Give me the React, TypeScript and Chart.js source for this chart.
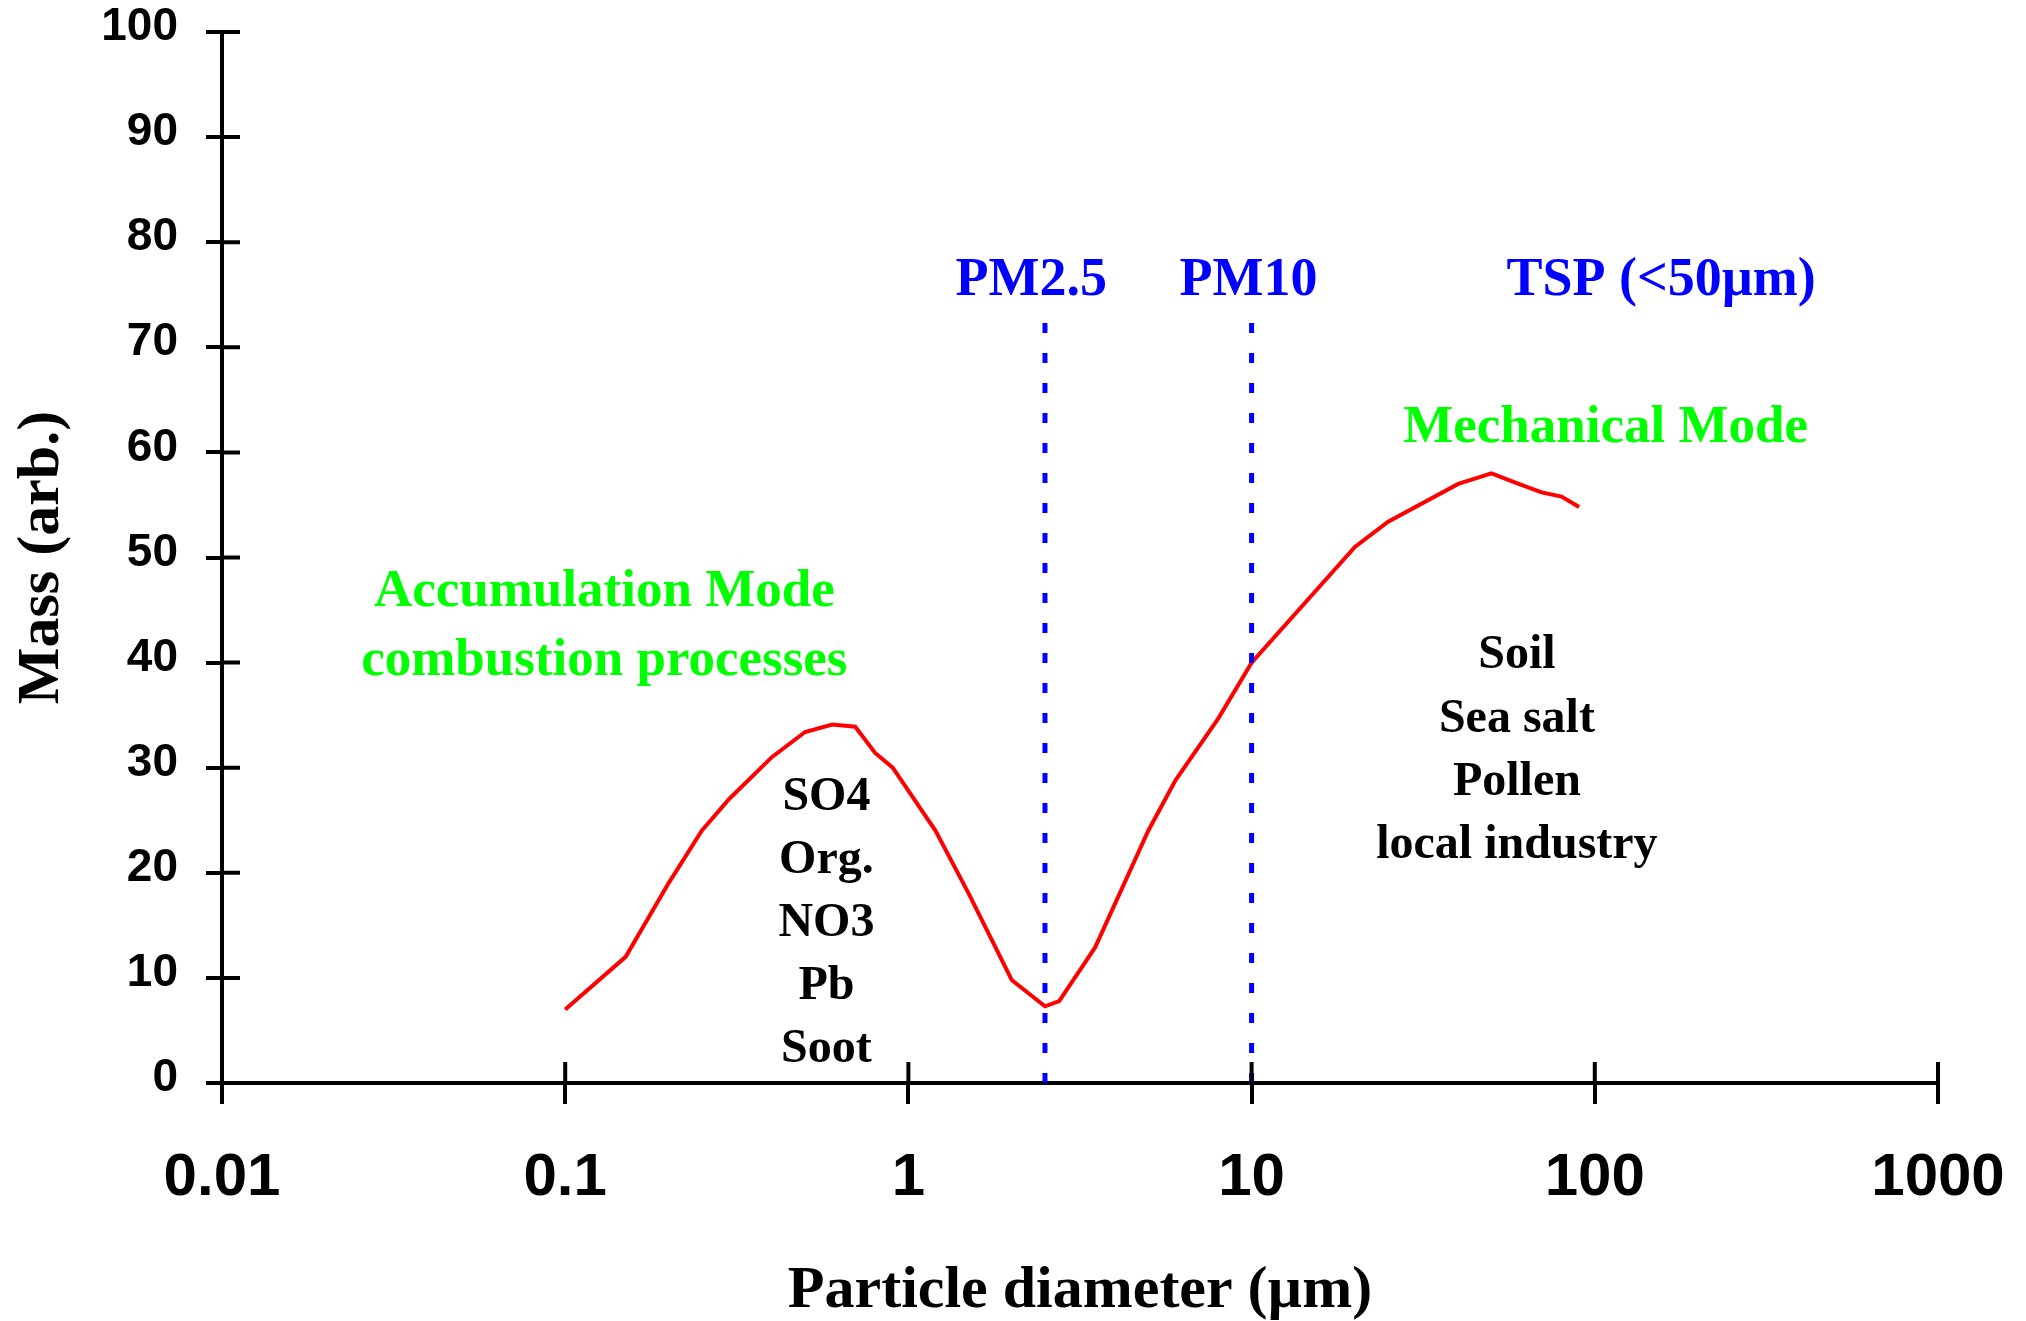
import React, { useEffect, useRef } from 'react';
import { Chart, registerables } from 'chart.js';

Chart.register(...registerables);

// ---- data ----
const diameters = [0.1, 0.15, 0.2, 0.25, 0.3, 0.4, 0.5, 0.6, 0.7, 0.8, 0.9, 1.2, 1.5, 2, 2.5, 2.75, 3.5, 5, 6, 8, 10, 20, 25, 40, 50, 60, 70, 80, 90];
const massValues = [7, 12, 19, 24, 27, 31, 33.4, 34.1, 33.9, 31.4, 30, 24, 18, 9.8, 7.3, 7.8, 12.9, 24, 28.8, 34.7, 40, 51, 53.4, 57, 58, 57, 56.2, 55.8, 54.8];
const cutoffSizes = [2.5, 10];
const cutoffTop = 73.1;
const xTickValues = [0.01, 0.1, 1, 10, 100, 1000];
const xTickLabels = ['0.01', '0.1', '1', '10', '100', '1000'];
const yTickValues = [0, 10, 20, 30, 40, 50, 60, 70, 80, 90, 100];

// text annotations, anchored in data coordinates (x = diameter, ys = baselines)
const BLUE = '#0000ff';
const GREEN = '#00ff00';
const BLACK = '#000000';
const annotations = [
  { lines: ['PM2.5'], x: 2.28, ys: [75], color: BLUE, size: 54 },
  { lines: ['PM10'], x: 9.8, ys: [75], color: BLUE, size: 54 },
  { lines: ['TSP (<50\u00b5m)'], x: 156, ys: [75], color: BLUE, size: 54 },
  { lines: ['Mechanical Mode'], x: 107.5, ys: [61], color: GREEN, size: 53 },
  { lines: ['Accumulation Mode', 'combustion processes'], x: 0.13, ys: [45.4, 38.8], color: GREEN, size: 53 },
  { lines: ['SO4', 'Org.', 'NO3', 'Pb', 'Soot'], x: 0.577, ys: [26, 20, 14, 8, 2], color: BLACK, size: 48 },
  { lines: ['Soil', 'Sea salt', 'Pollen', 'local industry'], x: 59.3, ys: [39.5, 33.4, 27.4, 21.4], color: BLACK, size: 48 },
];

const SANS = '"Liberation Sans", Arial, Helvetica, sans-serif';
const SERIF = '"Liberation Serif", "Times New Roman", Times, serif';

const extrasPlugin = {
  id: 'extras',
  afterDraw(chart: any) {
    const { ctx, chartArea, scales } = chart;
    const xs = scales.x;
    const ys = scales.y;
    ctx.save();
    // inner halves of the crossing tick marks
    ctx.strokeStyle = '#000';
    ctx.lineWidth = 4;
    ctx.beginPath();
    xTickValues.forEach((v) => {
      const px = xs.getPixelForValue(v);
      ctx.moveTo(px, chartArea.bottom);
      ctx.lineTo(px, chartArea.bottom - 21);
    });
    yTickValues.forEach((v) => {
      const py = ys.getPixelForValue(v);
      ctx.moveTo(chartArea.left, py);
      ctx.lineTo(chartArea.left + 18, py);
    });
    ctx.stroke();

    // text annotations
    ctx.textAlign = 'center';
    ctx.textBaseline = 'alphabetic';
    annotations.forEach((a) => {
      ctx.font = `bold ${a.size}px ${SERIF}`;
      ctx.fillStyle = a.color;
      const px = xs.getPixelForValue(a.x);
      a.lines.forEach((line, i) => {
        ctx.fillText(line, px, ys.getPixelForValue(a.ys[i]));
      });
    });
    ctx.restore();
  },
};

export default function App() {
  const canvasRef = useRef<HTMLCanvasElement | null>(null);

  useEffect(() => {
    const canvas = canvasRef.current;
    if (!canvas) return;
    const curve = diameters.map((d, i) => ({ x: d, y: massValues[i] }));
    const cutoffDatasets = cutoffSizes.map((s) => ({
      label: `cutoff ${s}`,
      data: [
        { x: s, y: 0 },
        { x: s, y: cutoffTop },
      ],
      showLine: true,
      borderColor: BLUE,
      borderWidth: 5,
      borderDash: [10, 20],
      pointRadius: 0,
      fill: false,
    }));

    const chart = new Chart(canvas, {
      type: 'scatter',
      data: {
        datasets: [
          ...cutoffDatasets,
          {
            label: 'Mass',
            data: curve,
            showLine: true,
            borderColor: '#ff0000',
            borderWidth: 4,
            pointRadius: 0,
            tension: 0,
            fill: false,
          },
        ],
      },
      options: {
        animation: false,
        responsive: false,
        events: [],
        layout: { padding: { top: 32, right: 88, left: 0, bottom: 0 } },
        plugins: {
          legend: { display: false },
          tooltip: { enabled: false },
          title: { display: false },
        },
        scales: {
          x: {
            type: 'logarithmic',
            position: 'bottom',
            min: 0.01,
            max: 1000,
            afterBuildTicks: (scale: any) => {
              scale.ticks = xTickValues.map((v) => ({ value: v }));
            },
            afterFit: (scale: any) => {
              scale.height = 238;
              scale.paddingLeft = 0;
              scale.paddingRight = 0;
            },
            ticks: {
              autoSkip: false,
              maxRotation: 0,
              minRotation: 0,
              padding: 44,
              color: '#000',
              font: { family: SANS, size: 60, weight: 'bold', lineHeight: 1 },
              callback: (value: any) => {
                const idx = xTickValues.indexOf(Number(value));
                return idx >= 0 ? xTickLabels[idx] : '';
              },
            },
            grid: {
              drawOnChartArea: false,
              drawTicks: true,
              tickLength: 21,
              color: '#000',
              lineWidth: 4,
            },
            border: { display: true, color: '#000', width: 4 },
            title: {
              display: true,
              text: 'Particle diameter (\u00b5m)',
              color: '#000',
              font: { family: SERIF, size: 60, weight: 'bold', lineHeight: 1 },
              padding: { top: 0, bottom: 0 },
            },
          },
          y: {
            type: 'linear',
            position: 'left',
            min: 0,
            max: 100,
            afterBuildTicks: (scale: any) => {
              scale.ticks = yTickValues.map((v) => ({ value: v }));
            },
            afterFit: (scale: any) => {
              scale.width = 222;
              scale.paddingTop = 0;
              scale.paddingBottom = 0;
            },
            ticks: {
              autoSkip: false,
              padding: 28,
              color: '#000',
              // two-line label (second empty) lifts the digits slightly above the tick, as in the reference
              font: { family: SANS, size: 46, weight: 'bold', lineHeight: '9px' },
              callback: (value: any) => [String(value), ''],
            },
            grid: {
              drawOnChartArea: false,
              drawTicks: true,
              tickLength: 16,
              color: '#000',
              lineWidth: 4,
            },
            border: { display: true, color: '#000', width: 4 },
            title: {
              display: true,
              text: 'Mass (arb.)',
              color: '#000',
              font: { family: SERIF, size: 60, weight: 'bold', lineHeight: 1 },
              padding: { top: 12, bottom: 0 },
            },
          },
        },
      },
      plugins: [extrasPlugin],
    } as any);

    return () => {
      chart.destroy();
    };
  }, []);

  return (
    <div style={{ position: 'fixed', left: 0, top: 0, width: 2026, height: 1321, background: '#fff' }}>
      <canvas ref={canvasRef} width={2026} height={1321} style={{ display: 'block', width: 2026, height: 1321 }} />
    </div>
  );
}
